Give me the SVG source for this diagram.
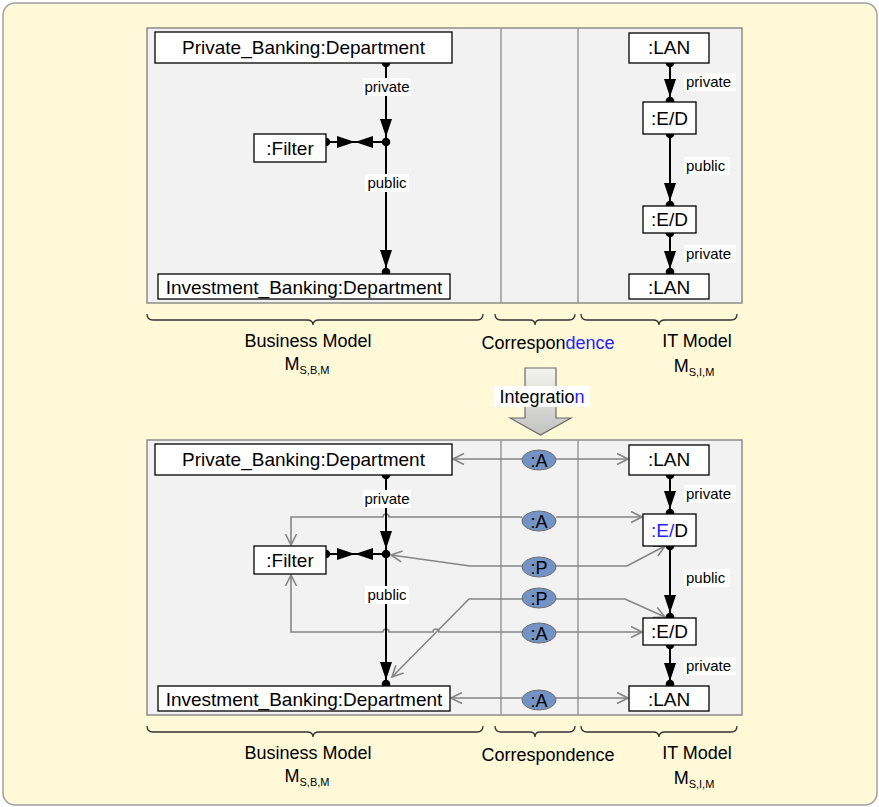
<svg xmlns="http://www.w3.org/2000/svg" xmlns:xlink="http://www.w3.org/1999/xlink" width="879" height="807" viewBox="0 0 879 807">
  <style>
    text { font-family: "Liberation Sans", Arial, sans-serif; fill: #000; }
    .node { fill: #fff; stroke: #000; stroke-width: 1.3; }
    .nt { font-size: 19px; text-anchor: middle; }
    .lbl { font-size: 15px; }
    .lblbg { fill: #fff; }
    .panel { fill: #f2f2f2; stroke: #8c8c8c; stroke-width: 1.5; }
    .div { stroke: #999; stroke-width: 1.5; fill: none; }
    .edge { stroke: #000; stroke-width: 2; fill: none; }
    .dot { fill: #000; }
    .corr { stroke: #858585; stroke-width: 1.6; fill: none; marker-end: url(#open); }
    .ell { fill: #7393c4; stroke: #6f6f6f; stroke-width: 1; }
    .et { font-size: 18px; text-anchor: middle; }
    .brace { stroke: #333; stroke-width: 1.3; fill: none; }
    .cap { font-size: 18px; text-anchor: middle; }
    .sub { font-size: 11px; }
    .blue { fill: #2424ff; }
  </style>
  <defs>
    <!-- filled arrowhead, tip at origin, pointing down -->
    <path id="ah" d="M-6,-18 L6,-18 L0,0 Z" fill="#000"/>
    <marker id="open" viewBox="0 0 13 13" refX="12" refY="6.5" markerWidth="13" markerHeight="13" markerUnits="userSpaceOnUse" orient="auto">
      <path d="M1,1 L12,6.5 L1,12" fill="none" stroke="#858585" stroke-width="1.6"/>
    </marker>
    <linearGradient id="blk" x1="0" y1="0" x2="0" y2="1">
      <stop offset="0" stop-color="#f3f4ec"/>
      <stop offset="1" stop-color="#c2c2c2"/>
    </linearGradient>
  </defs>

  <!-- background frame -->
  <rect x="3" y="3" width="874" height="802" rx="12" fill="#fff9d7" stroke="#a0a0a0" stroke-width="1.5"/>

  <!-- ===== upper model ===== -->
  <g id="upper">
    <rect class="panel" x="147" y="28" width="595" height="275"/>
    <line class="div" x1="501" y1="28" x2="501" y2="303"/>
    <line class="div" x1="578" y1="28" x2="578" y2="303"/>

    <g id="upper-connectors">
      <line class="edge" x1="386" y1="63" x2="386" y2="273"/>
      <line class="edge" x1="326" y1="142" x2="386" y2="142"/>
      <use xlink:href="#ah" x="386" y="137"/>
      <use xlink:href="#ah" x="386" y="268"/>
      <use xlink:href="#ah" transform="translate(355,142) rotate(-90)"/>
      <use xlink:href="#ah" transform="translate(355,142) rotate(90)"/>
      <circle class="dot" cx="386" cy="63" r="4.3"/>
      <circle class="dot" cx="386" cy="142" r="4.3"/>
      <circle class="dot" cx="386" cy="272" r="4.3"/>
      <circle class="dot" cx="326" cy="142" r="4.3"/>
      <rect class="lblbg" x="363" y="78" width="48" height="18"/>
      <text class="lbl" x="387" y="92" text-anchor="middle">private</text>
      <rect class="lblbg" x="365" y="174" width="44" height="18"/>
      <text class="lbl" x="387" y="188" text-anchor="middle">public</text>

      <line class="edge" x1="670" y1="63" x2="670" y2="273"/>
      <use xlink:href="#ah" x="670" y="97"/>
      <use xlink:href="#ah" x="670" y="201"/>
      <use xlink:href="#ah" x="670" y="269"/>
      <circle class="dot" cx="670" cy="63" r="4.3"/>
      <circle class="dot" cx="670" cy="101" r="4.3"/>
      <circle class="dot" cx="670" cy="134" r="4.3"/>
      <circle class="dot" cx="670" cy="205" r="4.3"/>
      <circle class="dot" cx="670" cy="233" r="4.3"/>
      <circle class="dot" cx="670" cy="272" r="4.3"/>
      <rect class="lblbg" x="684" y="73" width="52" height="18"/>
      <text class="lbl" x="686" y="87">private</text>
      <rect class="lblbg" x="684" y="157" width="46" height="18"/>
      <text class="lbl" x="686" y="171">public</text>
      <rect class="lblbg" x="684" y="245" width="52" height="18"/>
      <text class="lbl" x="686" y="259">private</text>
    </g>

    <g id="u-private-banking">
      <rect class="node" x="155" y="32" width="297" height="31"/>
      <text class="nt" x="303.5" y="54">Private_Banking:Department</text>
    </g>
    <g id="u-filter">
      <rect class="node" x="254" y="134" width="72" height="28"/>
      <text class="nt" x="290" y="155">:Filter</text>
    </g>
    <g id="u-investment-banking">
      <rect class="node" x="158" y="274" width="292" height="25"/>
      <text class="nt" x="304" y="293.5">Investment_Banking:Department</text>
    </g>
    <g id="u-lan-1">
      <rect class="node" x="629" y="33" width="80" height="30"/>
      <text class="nt" x="669" y="54">:LAN</text>
    </g>
    <g id="u-ed-1">
      <rect class="node" x="643" y="102" width="53" height="32"/>
      <text class="nt" x="669.5" y="125">:E/D</text>
    </g>
    <g id="u-ed-2">
      <rect class="node" x="643" y="206" width="53" height="27"/>
      <text class="nt" x="669.5" y="226">:E/D</text>
    </g>
    <g id="u-lan-2">
      <rect class="node" x="629" y="274" width="80" height="25"/>
      <text class="nt" x="669" y="293.5">:LAN</text>
    </g>

    <!-- column braces and captions -->
    <path class="brace" d="M147,314 q0,6 6,6 H307 q6,0 6,5 q0,-5 6,-5 H477 q6,0 6,-6"/>
    <path class="brace" d="M495,314 q0,6 6,6 H530 q5,0 5,5 q0,-5 5,-5 H569 q6,0 6,-6"/>
    <path class="brace" d="M581,314 q0,6 6,6 H653 q6,0 6,5 q0,-5 6,-5 H731 q6,0 6,-6"/>
    <text class="cap" x="308" y="347">Business Model</text>
    <text class="cap" x="307" y="370">M<tspan class="sub" dy="4">S,B,M</tspan></text>
    <text class="cap" x="548" y="349">Correspon<tspan class="blue">dence</tspan></text>
    <text class="cap" x="697" y="347">IT Model</text>
    <text class="cap" x="694" y="372">M<tspan class="sub" dy="4">S,I,M</tspan></text>
  </g>

  <!-- integration step -->
  <g id="integration">
    <polygon points="525,368 556,368 556,418 571,418 540.5,435 510,418 525,418" fill="url(#blk)" stroke="#6a6a6a" stroke-width="1.2"/>
    <rect x="494" y="386" width="96" height="21" fill="#fff"/>
    <text class="cap" x="542" y="403">Integratio<tspan class="blue">n</tspan></text>
  </g>

  <!-- ===== integrated model ===== -->
  <g id="lower">
    <rect class="panel" x="147" y="440" width="595" height="275"/>
    <line class="div" x1="501" y1="440" x2="501" y2="715"/>
    <line class="div" x1="578" y1="440" x2="578" y2="715"/>

    <g id="lower-connectors">
      <!-- correspondence links -->
      <path class="corr" d="M522,459 H453"/>
      <path class="corr" d="M556,459 H628"/>
      <path class="corr" d="M522,517 H389 a3,3 0 0 0 -6,0 H291 V545"/>
      <path class="corr" d="M556,517 H642"/>
      <path class="corr" d="M522,566 H470 L391,555"/>
      <path class="corr" d="M556,566 H627 L665,546"/>
      <path class="corr" d="M522,599 H469 L392,677"/>
      <path class="corr" d="M556,599 H625 L665,617"/>
      <path class="corr" d="M522,632 H439 a3,3 0 0 0 -6,0 H389 a3,3 0 0 0 -6,0 H291 V575"/>
      <path class="corr" d="M556,632 H642"/>
      <path class="corr" d="M522,698 H451"/>
      <path class="corr" d="M556,698 H628"/>

      <!-- model links -->
      <line class="edge" x1="386" y1="475" x2="386" y2="685"/>
      <line class="edge" x1="326" y1="554" x2="386" y2="554"/>
      <use xlink:href="#ah" x="386" y="549"/>
      <use xlink:href="#ah" x="386" y="680"/>
      <use xlink:href="#ah" transform="translate(355,554) rotate(-90)"/>
      <use xlink:href="#ah" transform="translate(355,554) rotate(90)"/>
      <circle class="dot" cx="386" cy="475" r="4.3"/>
      <circle class="dot" cx="386" cy="554" r="4.3"/>
      <circle class="dot" cx="386" cy="684" r="4.3"/>
      <circle class="dot" cx="326" cy="554" r="4.3"/>
      <rect class="lblbg" x="363" y="490" width="48" height="18"/>
      <text class="lbl" x="387" y="504" text-anchor="middle">private</text>
      <rect class="lblbg" x="365" y="586" width="44" height="18"/>
      <text class="lbl" x="387" y="600" text-anchor="middle">public</text>

      <line class="edge" x1="670" y1="475" x2="670" y2="685"/>
      <use xlink:href="#ah" x="670" y="509"/>
      <use xlink:href="#ah" x="670" y="613"/>
      <use xlink:href="#ah" x="670" y="681"/>
      <circle class="dot" cx="670" cy="475" r="4.3"/>
      <circle class="dot" cx="670" cy="513" r="4.3"/>
      <circle class="dot" cx="670" cy="546" r="4.3"/>
      <circle class="dot" cx="670" cy="617" r="4.3"/>
      <circle class="dot" cx="670" cy="645" r="4.3"/>
      <circle class="dot" cx="670" cy="684" r="4.3"/>
      <rect class="lblbg" x="684" y="485" width="52" height="18"/>
      <text class="lbl" x="686" y="499">private</text>
      <rect class="lblbg" x="684" y="569" width="46" height="18"/>
      <text class="lbl" x="686" y="583">public</text>
      <rect class="lblbg" x="684" y="657" width="52" height="18"/>
      <text class="lbl" x="686" y="671">private</text>
    </g>

    <g id="l-private-banking">
      <rect class="node" x="155" y="444" width="297" height="31"/>
      <text class="nt" x="303.5" y="466">Private_Banking:Department</text>
    </g>
    <g id="l-filter">
      <rect class="node" x="254" y="546" width="72" height="28"/>
      <text class="nt" x="290" y="567">:Filter</text>
    </g>
    <g id="l-investment-banking">
      <rect class="node" x="158" y="686" width="292" height="25"/>
      <text class="nt" x="304" y="705.5">Investment_Banking:Department</text>
    </g>
    <g id="l-lan-1">
      <rect class="node" x="629" y="445" width="80" height="30"/>
      <text class="nt" x="669" y="466">:LAN</text>
    </g>
    <g id="l-ed-1">
      <rect class="node" x="643" y="514" width="53" height="32"/>
      <text class="nt" x="669.5" y="537"><tspan class="blue">:E/</tspan>D</text>
    </g>
    <g id="l-ed-2">
      <rect class="node" x="643" y="618" width="53" height="27"/>
      <text class="nt" x="669.5" y="638">:E/D</text>
    </g>
    <g id="l-lan-2">
      <rect class="node" x="629" y="686" width="80" height="25"/>
      <text class="nt" x="669" y="705.5">:LAN</text>
    </g>

    <g id="corr-a1"><ellipse class="ell" cx="539" cy="460" rx="17" ry="10"/><text class="et" x="539" y="466.5">:A</text></g>
    <g id="corr-a2"><ellipse class="ell" cx="539" cy="521" rx="17" ry="10"/><text class="et" x="539" y="527.5">:A</text></g>
    <g id="corr-p1"><ellipse class="ell" cx="539" cy="567" rx="17" ry="10"/><text class="et" x="539" y="573.5">:P</text></g>
    <g id="corr-p2"><ellipse class="ell" cx="539" cy="598" rx="17" ry="10"/><text class="et" x="539" y="604.5">:P</text></g>
    <g id="corr-a3"><ellipse class="ell" cx="539" cy="633" rx="17" ry="10"/><text class="et" x="539" y="639.5">:A</text></g>
    <g id="corr-a4"><ellipse class="ell" cx="539" cy="700" rx="17" ry="10"/><text class="et" x="539" y="706.5">:A</text></g>

    <path class="brace" d="M147,726 q0,6 6,6 H307 q6,0 6,5 q0,-5 6,-5 H477 q6,0 6,-6"/>
    <path class="brace" d="M495,726 q0,6 6,6 H530 q5,0 5,5 q0,-5 5,-5 H569 q6,0 6,-6"/>
    <path class="brace" d="M581,726 q0,6 6,6 H653 q6,0 6,5 q0,-5 6,-5 H731 q6,0 6,-6"/>
    <text class="cap" x="308" y="759">Business Model</text>
    <text class="cap" x="307" y="782">M<tspan class="sub" dy="4">S,B,M</tspan></text>
    <text class="cap" x="548" y="761">Correspondence</text>
    <text class="cap" x="697" y="759">IT Model</text>
    <text class="cap" x="694" y="784">M<tspan class="sub" dy="4">S,I,M</tspan></text>
  </g>
</svg>
